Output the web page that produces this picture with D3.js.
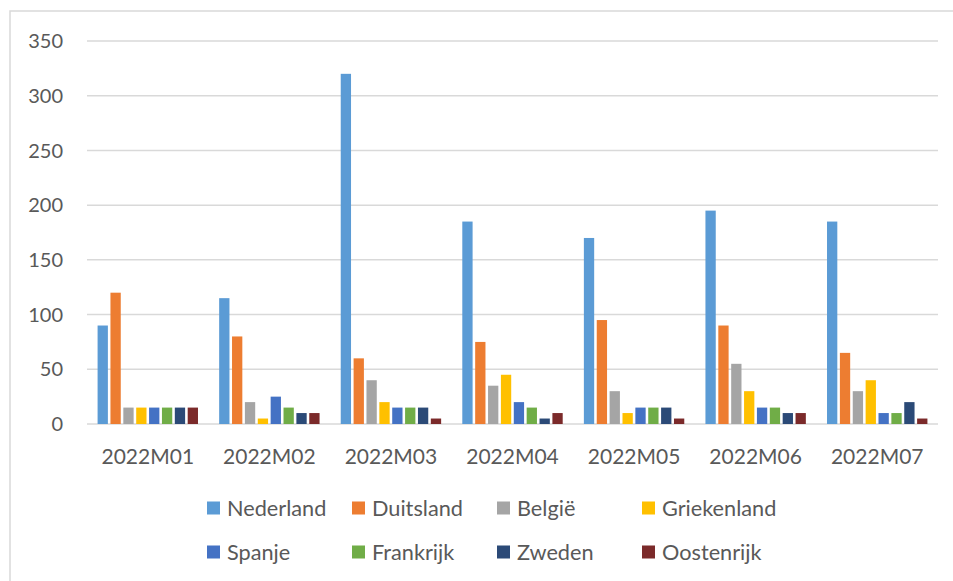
<!DOCTYPE html>
<html>
<head>
<meta charset="utf-8">
<script src="https://cdn.jsdelivr.net/npm/d3@7"></script>
<style>
  body { margin: 0; background: #fff; }
  text { font-family: Lato, "Open Sans", sans-serif; fill: #595959; }
</style>
</head>
<body>
<script>
var months = ["2022M01", "2022M02", "2022M03", "2022M04", "2022M05", "2022M06", "2022M07"];
var countries = ["Nederland", "Duitsland", "België", "Griekenland", "Spanje", "Frankrijk", "Zweden", "Oostenrijk"];
var colors = ["#5B9BD5", "#ED7D31", "#A5A5A5", "#FFC000", "#4472C4", "#70AD47", "#2B4A77", "#7B2A2A"];
var yTicks = [0, 50, 100, 150, 200, 250, 300, 350];

// one array per country, one value per month
var nederland   = [90, 115, 320, 185, 170, 195, 185];
var duitsland   = [120, 80, 60, 75, 95, 90, 65];
var belgie      = [15, 20, 40, 35, 30, 55, 30];
var griekenland = [15, 5, 20, 45, 10, 30, 40];
var spanje      = [15, 25, 15, 20, 15, 15, 10];
var frankrijk   = [15, 15, 15, 15, 15, 15, 10];
var zweden      = [15, 10, 15, 5, 15, 10, 20];
var oostenrijk  = [15, 10, 5, 10, 5, 10, 5];
var series = [nederland, duitsland, belgie, griekenland, spanje, frankrijk, zweden, oostenrijk];

var chart = {
  width: 953,
  height: 581,
  left: 87,
  right: 938,
  top: 41,
  bottom: 424
};

var svg = d3.select("body").append("svg")
            .attr("width", chart.width)
            .attr("height", chart.height);

// chart area border (runs off the right and bottom)
svg.append("rect")
   .attr("x", 10).attr("y", 11)
   .attr("width", 960).attr("height", 590)
   .attr("fill", "none")
   .attr("stroke", "#D9D9D9")
   .attr("stroke-width", 1.5);

var y = d3.scaleLinear().domain([0, 350]).range([chart.bottom, chart.top]);

var x0 = d3.scaleBand().domain(months)
           .range([chart.left, chart.right])
           .paddingInner(0.153).paddingOuter(0.0765);

var x1 = d3.scaleBand().domain(countries)
           .range([0, x0.bandwidth()])
           .paddingInner(0.2).paddingOuter(0.1);

// gridlines
svg.selectAll("line.grid")
   .data(yTicks)
   .enter().append("line")
   .attr("class", "grid")
   .attr("x1", chart.left).attr("x2", chart.right)
   .attr("y1", function(d){ return y(d); })
   .attr("y2", function(d){ return y(d); })
   .attr("stroke", "#D9D9D9")
   .attr("stroke-width", 1.5);

// y labels
svg.selectAll("text.ytick")
   .data(yTicks)
   .enter().append("text")
   .attr("class", "ytick")
   .attr("x", 63)
   .attr("y", function(d){ return y(d); })
   .attr("dy", "0.36em")
   .attr("text-anchor", "end")
   .style("font-size", "20px")
   .text(function(d){ return d; });

// bars
var groups = svg.selectAll("g.month")
   .data(months)
   .enter().append("g")
   .attr("class", "month")
   .attr("transform", function(d){ return "translate(" + x0(d) + ",0)"; });

groups.selectAll("rect")
   .data(function(m, i){
     return countries.map(function(c, k){ return {country: c, value: series[k][i], color: colors[k]}; });
   })
   .enter().append("rect")
   .attr("x", function(d){ return x1(d.country); })
   .attr("width", x1.bandwidth())
   .attr("y", function(d){ return y(d.value); })
   .attr("height", function(d){ return y(0) - y(d.value); })
   .attr("fill", function(d){ return d.color; });

// x labels
svg.selectAll("text.xtick")
   .data(months)
   .enter().append("text")
   .attr("class", "xtick")
   .attr("x", function(d){ return x0(d) + x0.bandwidth() / 2; })
   .attr("y", 456)
   .attr("dy", "0.36em")
   .attr("text-anchor", "middle")
   .style("font-size", "21px")
   .text(function(d){ return d; });

// legend, 4 per row
var legend = svg.selectAll("g.legend")
   .data(countries)
   .enter().append("g")
   .attr("class", "legend")
   .attr("transform", function(d, i){
     return "translate(" + (207 + (i % 4) * 145) + "," + (508 + Math.floor(i / 4) * 44) + ")";
   });

legend.append("rect")
   .attr("x", 0).attr("y", -6.5)
   .attr("width", 13).attr("height", 13)
   .attr("fill", function(d, i){ return colors[i]; });

legend.append("text")
   .attr("x", 20)
   .attr("dy", "0.36em")
   .style("font-size", "21.7px")
   .text(function(d){ return d; });
</script>
</body>
</html>
